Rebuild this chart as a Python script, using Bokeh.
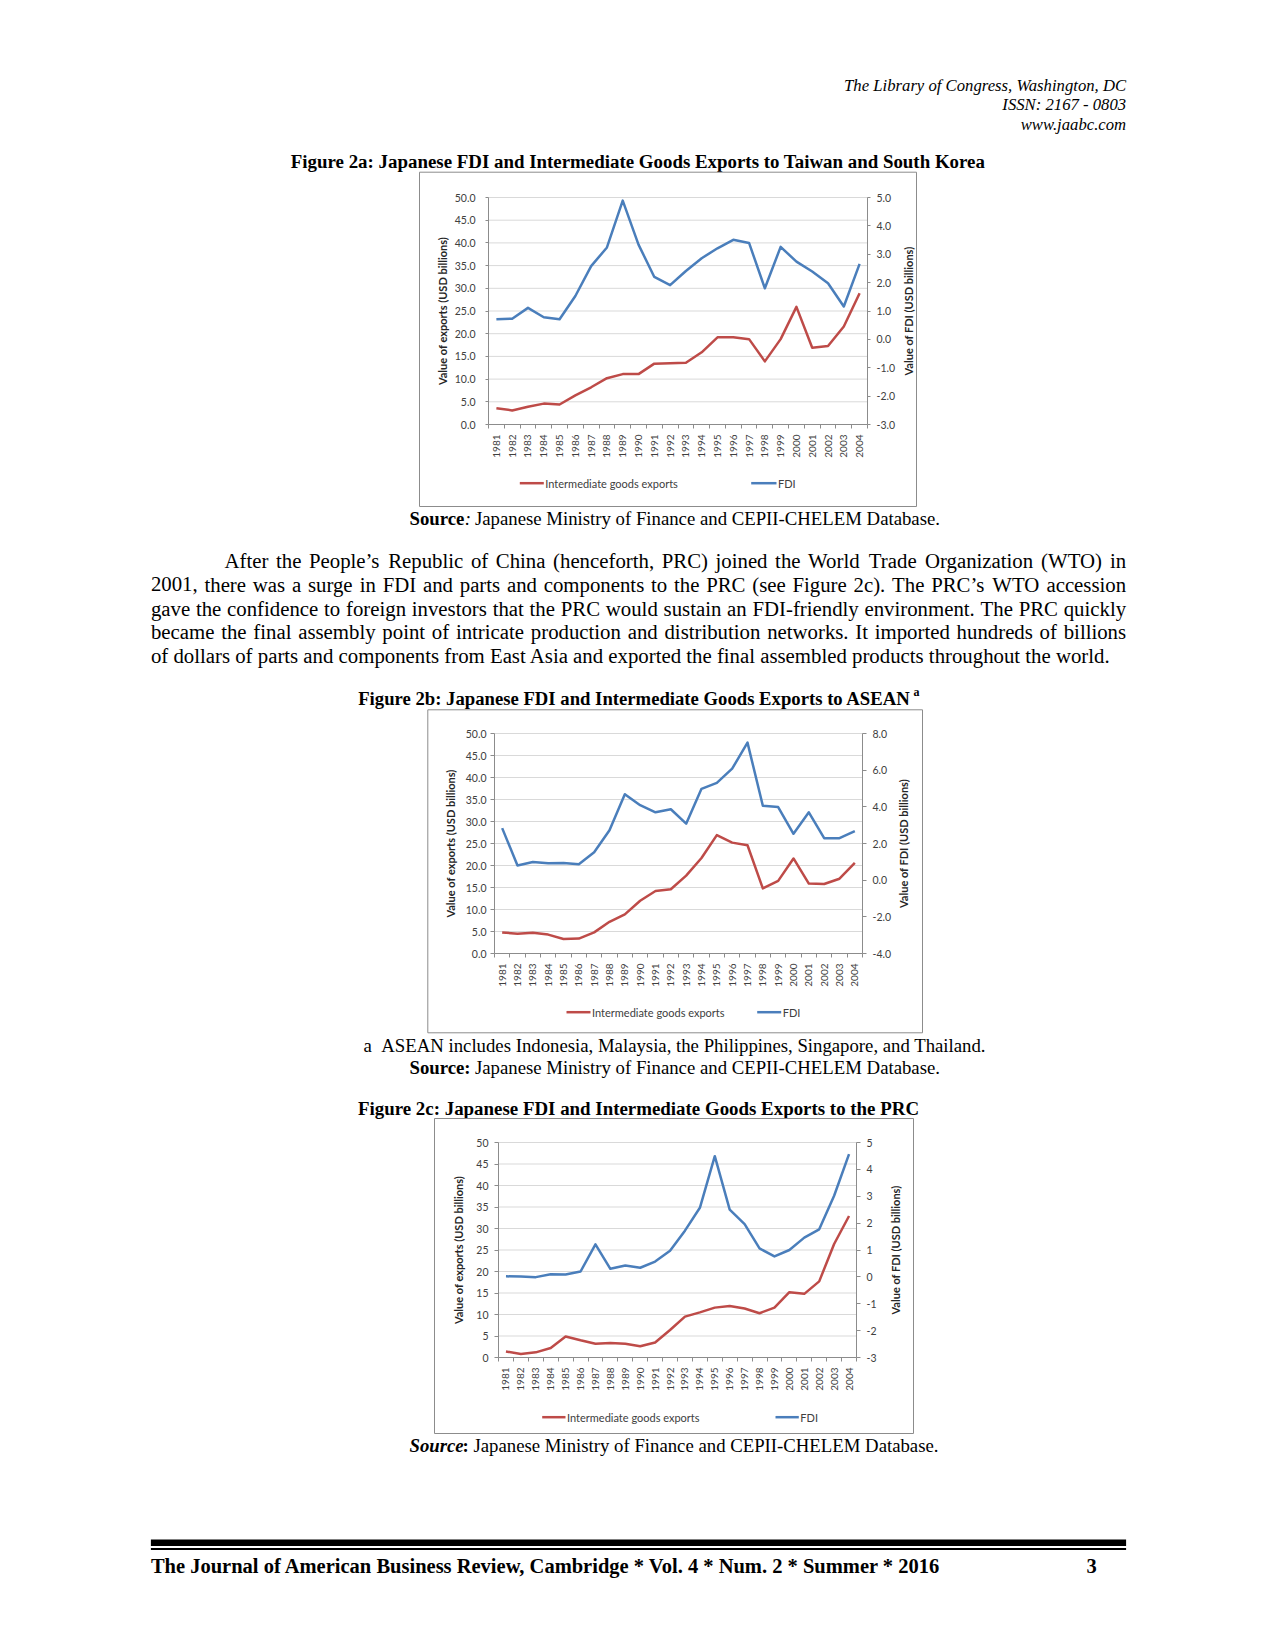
import math
from bokeh.plotting import figure
from bokeh.models import Range1d, LinearAxis, FixedTicker, PrintfTickFormatter
from bokeh.core.properties import value
from bokeh.embed import file_html
from bokeh.resources import INLINE

# ---------------- data ----------------
years = list(range(1981, 2005))

# Figure 2a: Taiwan and South Korea
exports_2a = [3.6, 3.1, 3.9, 4.6, 4.4, 6.4, 8.2, 10.2, 11.1, 11.1, 13.4, 13.5,
              13.6, 15.9, 19.2, 19.2, 18.8, 13.9, 18.8, 25.9, 16.9, 17.3, 21.6, 28.9]
fdi_2a = [0.71, 0.73, 1.11, 0.78, 0.71, 1.53, 2.58, 3.24, 4.89, 3.34, 2.20, 1.91,
          2.41, 2.86, 3.21, 3.51, 3.40, 1.80, 3.26, 2.74, 2.39, 1.98, 1.16, 2.66]

# Figure 2b: ASEAN
exports_2b = [4.8, 4.5, 4.7, 4.3, 3.3, 3.4, 4.8, 7.2, 8.9, 12.0, 14.2, 14.6,
              17.7, 21.7, 26.9, 25.2, 24.6, 14.8, 16.5, 21.6, 15.9, 15.8, 17.0, 20.6]
fdi_2b = [2.84, 0.80, 0.99, 0.92, 0.94, 0.87, 1.52, 2.72, 4.69, 4.09, 3.70, 3.87,
          3.08, 4.98, 5.31, 6.08, 7.50, 4.06, 3.99, 2.53, 3.70, 2.29, 2.29, 2.67]

# Figure 2c: PRC
exports_2c = [1.4, 0.8, 1.2, 2.2, 4.9, 4.0, 3.2, 3.4, 3.2, 2.6, 3.5, 6.4,
              9.5, 10.5, 11.6, 12.0, 11.4, 10.3, 11.6, 15.2, 14.8, 17.7, 26.4, 32.9]
fdi_2c = [0.02, 0.01, -0.01, 0.10, 0.09, 0.20, 1.21, 0.30, 0.42, 0.34, 0.57, 0.97,
          1.72, 2.57, 4.49, 2.50, 1.96, 1.06, 0.76, 1.00, 1.46, 1.77, 3.02, 4.57]

left_ticks = [0, 5, 10, 15, 20, 25, 30, 35, 40, 45, 50]
right_ticks_2a = [-3, -2, -1, 0, 1, 2, 3, 4, 5]
right_ticks_2b = [-4, -2, 0, 2, 4, 6, 8]
right_ticks_2c = [-3, -2, -1, 0, 1, 2, 3, 4, 5]

series_names = ["Intermediate goods exports", "FDI"]
left_title = "Value of exports (USD billions)"
right_title = "Value of FDI (USD billions)"

header_lines = ["The Library of Congress, Washington, DC", "ISSN: 2167 - 0803", "www.jaabc.com"]
paragraph = [
    "After the People\u2019s Republic of China (henceforth, PRC) joined the World Trade Organization (WTO) in",
    "2001, there was a surge in FDI and parts and components to the PRC (see Figure 2c). The PRC\u2019s WTO accession",
    "gave the confidence to foreign investors that the PRC would sustain an FDI-friendly environment. The PRC quickly",
    "became the final assembly point of intricate production and distribution networks. It imported hundreds of billions",
    "of dollars of parts and components from East Asia and exported the final assembled products throughout the world.",
]
source_rest = "Japanese Ministry of Finance and CEPII-CHELEM Database."

# ---------------- style ----------------
RED = "#BE4B48"
BLUE = "#4A7EBB"
GRID = "#D9D9D9"
AXIS = "#8C8C8C"
BOX = "#8C8C8C"
TICKTXT = "#404040"
SERIF = "Liberation Serif"
SANS = "Lato"
CW, CH = 1259, 1634   # canvas size; canvas pixel == page pixel

# Times-compatible advance widths (per 1000 em) used to justify the paragraph
_TW = {' ': 250, '(': 333, ')': 333, ',': 250, '-': 333, '.': 250, ':': 278, '\u2019': 333}
_TW.update({d: 500 for d in "0123456789"})
_TW.update(dict(zip("ABCDEFGHIJKLMNOPQRSTUVWXYZ",
                    [722, 667, 667, 722, 611, 556, 722, 722, 333, 389, 722, 611, 889,
                     722, 722, 556, 722, 667, 556, 611, 722, 722, 944, 722, 722, 611])))
_TW.update(dict(zip("abcdefghijklmnopqrstuvwxyz",
                    [444, 500, 444, 500, 444, 333, 500, 500, 278, 278, 500, 278, 778,
                     500, 500, 500, 500, 333, 389, 278, 500, 500, 722, 500, 500, 444])))


def tw(s, size):
    return sum(_TW.get(c, 500) for c in s) * size / 1000.0


p = figure(width=CW, height=CH, x_range=Range1d(0, CW), y_range=Range1d(CH, 0),
           x_axis_type=None, y_axis_type=None, title=None,
           min_border=0, min_border_left=0, min_border_right=0,
           min_border_top=0, min_border_bottom=0,
           output_backend="svg", toolbar_location=None)
p.outline_line_color = None
p.background_fill_color = "white"
p.border_fill_color = "white"

extra_x = {}
extra_y = {}


def txt(x, y, text, size, style="normal", align="left", angle=0.0, font=SERIF, color="black"):
    p.text(x=[x], y=[y], text=[text], text_font=value(font),
           text_font_size=f"{size}px", text_font_style=style, text_align=align,
           text_baseline="middle", angle=angle, text_color=color)


def justified(x0, x1, y, line, size):
    words = line.split(" ")
    widths = [tw(w, size) for w in words]
    gap = (x1 - x0 - sum(widths)) / (len(words) - 1)
    xs, cur = [], x0
    for w in widths:
        xs.append(cur)
        cur += w + gap
    p.text(x=xs[:-1], y=[y] * (len(words) - 1), text=words[:-1], text_font=value(SERIF),
           text_font_size=f"{size}px", text_align="left", text_baseline="middle",
           text_color="black")
    p.text(x=[x1], y=[y], text=[words[-1]], text_font=value(SERIF),
           text_font_size=f"{size}px", text_align="right", text_baseline="middle",
           text_color="black")


def add_chart(k, FL, FT, FR, FB, exports, fdi, fdi_ticks, fmt,
              l_tick, l_std, r_tick, r_std, bx, ltx, rtx, ty, leg):
    xn, yn, fn = f"x{k}", f"y{k}", f"f{k}"
    xs = 24.0 / (FR - FL)
    extra_x[xn] = Range1d(1980.5 - FL * xs, 2004.5 + (CW - FR) * xs)
    u = 50.0 / (FB - FT)
    extra_y[yn] = Range1d(0 - (CH - FB) * u, 50 + FT * u)
    r0, r1 = fdi_ticks[0], fdi_ticks[-1]
    v = (r1 - r0) / (FB - FT)
    extra_y[fn] = Range1d(r0 - (CH - FB) * v, r1 + FT * v)

    l, t, r, b = bx
    p.quad(left=[l], right=[r], top=[t], bottom=[b], fill_alpha=0,
           line_color=BOX, line_width=1)

    gl = left_ticks[1:]
    p.segment(x0=[1980.5] * len(gl), y0=gl, x1=[2004.5] * len(gl), y1=gl,
              x_range_name=xn, y_range_name=yn, line_color=GRID, line_width=1)

    p.line(years, exports, line_color=RED, line_width=2.5, line_join="round",
           x_range_name=xn, y_range_name=yn)
    p.line(years, fdi, line_color=BLUE, line_width=2.5, line_join="round",
           x_range_name=xn, y_range_name=fn)

    common = dict(major_label_text_font=SANS, major_label_text_font_size="10.5px",
                  major_label_text_color=TICKTXT, axis_line_color=AXIS,
                  major_tick_line_color=AXIS, minor_tick_line_color=AXIS,
                  major_tick_in=0, minor_tick_in=0)

    xa = LinearAxis(x_range_name=xn, y_range_name=yn, fixed_location=0,
                    bounds=(1980.5, 2004.5),
                    ticker=FixedTicker(ticks=years,
                                       minor_ticks=[y - 0.5 for y in years] + [years[-1] + 0.5]),
                    formatter=PrintfTickFormatter(format="%d"),
                    major_label_orientation=math.pi / 2, major_tick_out=0,
                    minor_tick_out=4, major_label_standoff=6, **common)
    xa.major_label_text_font_size = "10px"
    p.add_layout(xa, "below")

    la = LinearAxis(x_range_name=xn, y_range_name=yn, fixed_location=1980.5,
                    bounds=(0, 50), ticker=FixedTicker(ticks=left_ticks),
                    formatter=PrintfTickFormatter(format=fmt),
                    major_tick_out=l_tick, minor_tick_out=0,
                    major_label_standoff=l_std, **common)
    p.add_layout(la, "left")

    ra = LinearAxis(x_range_name=xn, y_range_name=fn, fixed_location=2004.5,
                    bounds=(r0, r1), ticker=FixedTicker(ticks=fdi_ticks),
                    formatter=PrintfTickFormatter(format=fmt),
                    major_tick_out=r_tick, minor_tick_out=0,
                    major_label_standoff=r_std, **common)
    p.add_layout(ra, "right")

    txt(ltx, ty, left_title, 11, style="bold", align="center", angle=math.pi / 2,
        font=SANS, color="#262626")
    txt(rtx, ty, right_title, 11, style="bold", align="center", angle=math.pi / 2,
        font=SANS, color="#262626")

    a0, a1, b0, b1, ly = leg
    p.segment(x0=[a0], y0=[ly], x1=[a1], y1=[ly], line_color=RED, line_width=2.5)
    txt(a1 + 1.5, ly, series_names[0], 11, font=SANS, color=TICKTXT)
    p.segment(x0=[b0], y0=[ly], x1=[b1], y1=[ly], line_color=BLUE, line_width=2.5)
    txt(b1 + 1.5, ly, series_names[1], 11, font=SANS, color=TICKTXT)


# ---------------- header ----------------
for line_text, yy in zip(header_lines, [85.2, 104.1, 124.1]):
    txt(1125.6, yy, line_text, 16.7, style="italic", align="right")

# ---------------- figure 2a ----------------
txt(637.5, 161, "Figure 2a: Japanese FDI and Intermediate Goods Exports to Taiwan and South Korea",
    18.9, style="bold", align="center")
add_chart(1, 488, 197, 867, 424, exports_2a, fdi_2a, right_ticks_2a, "%.1f",
          3, 10, 3, 6, (419, 171.7, 916, 506), 441.7, 908, 310.5,
          (519.3, 543.3, 750.7, 776, 482.7))
txt(409, 517.6, "Source", 18.75, style="bold")
txt(464.2, 517.6, ":", 18.75, style="italic")
txt(474.5, 517.6, source_rest, 18.75)

# ---------------- paragraph ----------------
para_y = [559.6, 583.8, 608.0, 631.2, 655.4]
for i, (line_text, yy) in enumerate(zip(paragraph, para_y)):
    if i < len(paragraph) - 1:
        justified(224 if i == 0 else 150.4, 1125.6, yy, line_text, 20.8)
    else:
        txt(150.4, yy, line_text, 20.8)

# ---------------- figure 2b ----------------
txt(357.7, 697.5, "Figure 2b: Japanese FDI and Intermediate Goods Exports to ASEAN",
    18.7, style="bold")
txt(913, 691, "a", 12, style="bold")
add_chart(2, 494, 733, 862, 953, exports_2b, fdi_2b, right_ticks_2b, "%.1f",
          4, 4, 4, 6, (427.3, 709.3, 922, 1032.3), 450, 903, 843,
          (566, 590, 756.7, 780.7, 1011.7))
txt(363, 1044.6, "a", 18.75)
txt(380.8, 1044.6, "ASEAN includes Indonesia, Malaysia, the Philippines, Singapore, and Thailand.", 18.75)
txt(409, 1066.7, "Source:", 18.75, style="bold")
txt(474.5, 1066.7, source_rest, 18.75)

# ---------------- figure 2c ----------------
txt(638, 1107.7, "Figure 2c: Japanese FDI and Intermediate Goods Exports to the PRC",
    18.9, style="bold", align="center")
add_chart(3, 498, 1142, 856, 1357, exports_2c, fdi_2c, right_ticks_2c, "%d",
          4, 6, 4, 6, (434, 1118, 913, 1433), 458.3, 895, 1249.5,
          (541.7, 565, 775, 798.3, 1416.7))
txt(409, 1445.4, "Source", 18.75, style="bold italic")
txt(462.1, 1445.4, ":", 18.75, style="bold")
txt(473, 1445.4, source_rest, 18.75)

# ---------------- footer ----------------
p.quad(left=[150.4], right=[1125.6], top=[1539], bottom=[1545.5],
       fill_color="black", line_color=None)
p.quad(left=[150.4], right=[1125.6], top=[1547.5], bottom=[1549.5],
       fill_color="black", line_color=None)
txt(150.4, 1565, "The Journal of American Business Review, Cambridge * Vol. 4 * Num. 2 * Summer * 2016",
    20.5, style="bold")
txt(1086, 1565, "3", 20.5, style="bold")

p.extra_x_ranges = extra_x
p.extra_y_ranges = extra_y

open("out.html", "w").write(file_html(p, INLINE))
